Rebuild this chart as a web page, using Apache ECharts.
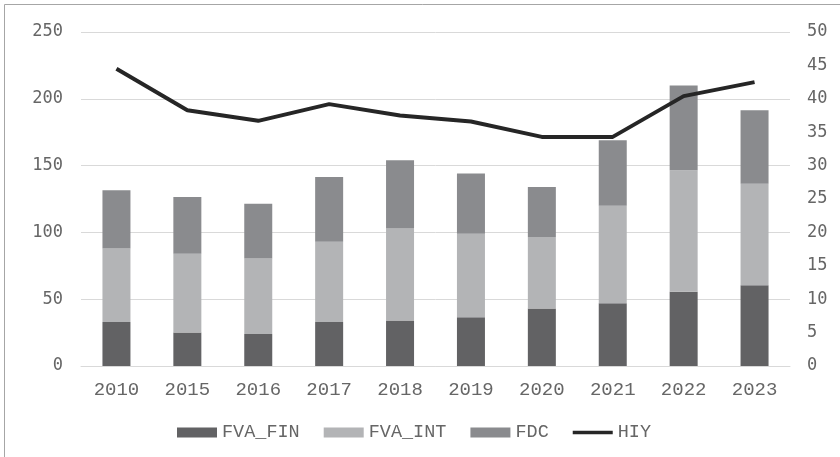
<!DOCTYPE html>
<html>
<head>
<meta charset="utf-8">
<script src="https://cdn.jsdelivr.net/npm/echarts@6/dist/echarts.min.js"></script>
<style>
  html, body { margin: 0; padding: 0; background: #fff; }
  #chart { width: 840px; height: 457px; }
</style>
</head>
<body>
<div id="chart"></div>
<script>
// Years on the category axis
const years = ['2010', '2015', '2016', '2017', '2018', '2019', '2020', '2021', '2022', '2023'];

// Stacked bar components (left axis)
const fvaFin = [33, 25, 24, 33, 34, 36.5, 43, 47, 55.5, 60.5];
const fvaInt = [55, 59, 56.5, 60, 69, 62.5, 53.5, 73, 91, 76];
const fdc    = [43.5, 42.5, 41, 48.5, 51, 45, 37.5, 49, 63.5, 55];

// Line series (right axis)
const hiy = [44.5, 38.3, 36.7, 39.2, 37.5, 36.6, 34.3, 34.3, 40.4, 42.5];

// Axis ranges
const leftAxis = { min: 0, max: 250, interval: 50 };
const rightAxis = { min: 0, max: 50, interval: 5 };

const chart = echarts.init(document.getElementById('chart'), null, { renderer: 'canvas' });

const labelColor = '#666666';
const sansMono = '"DejaVu Sans Mono", monospace';
const serifMono = '"Liberation Mono", "Courier New", monospace';

// Thin horizontal bar inside a 40x10 box, used as the line legend marker
const lineIcon = 'path://M0,3.3 L40,3.3 L40,6.7 L0,6.7 Z M0,0 L0,0 L0,10 Z';

chart.setOption({
  backgroundColor: '#ffffff',
  animation: false,
  graphic: [{
    type: 'rect',
    shape: { x: 4.5, y: 4.5, width: 1000, height: 1000 },
    style: { fill: 'none', stroke: '#a6a6a6', lineWidth: 1 },
    silent: true
  }],
  grid: { left: 81, right: 50, top: 32, bottom: 91 },
  legend: {
    bottom: 10,
    left: 172,
    itemWidth: 40,
    itemHeight: 10,
    itemGap: 24,
    textStyle: { fontFamily: serifMono, fontSize: 18.5, color: labelColor, padding: [0, 0, 0, 0] },
    data: [
      { name: 'FVA_FIN', icon: 'rect' },
      { name: 'FVA_INT', icon: 'rect' },
      { name: 'FDC', icon: 'rect' },
      { name: 'HIY', icon: lineIcon, itemStyle: { color: '#262626' } }
    ]
  },
  xAxis: {
    type: 'category',
    data: years,
    axisLine: { show: true, lineStyle: { color: '#d9d9d9', width: 1 } },
    axisTick: { show: false },
    axisLabel: { fontFamily: serifMono, fontSize: 19, color: labelColor, margin: 14 }
  },
  yAxis: [
    {
      type: 'value',
      min: leftAxis.min, max: leftAxis.max, interval: leftAxis.interval,
      axisLine: { show: false },
      axisTick: { show: false },
      splitLine: { lineStyle: { color: '#d9d9d9', width: 1 } },
      axisLabel: { fontFamily: sansMono, fontSize: 17, color: labelColor, margin: 18 }
    },
    {
      type: 'value',
      min: rightAxis.min, max: rightAxis.max, interval: rightAxis.interval,
      axisLine: { show: false },
      axisTick: { show: false },
      splitLine: { show: false },
      axisLabel: { fontFamily: sansMono, fontSize: 17, color: labelColor, margin: 17 }
    }
  ],
  series: [
    {
      name: 'FVA_FIN', type: 'bar', stack: 'total', data: fvaFin,
      barWidth: 28, itemStyle: { color: '#626264' }
    },
    {
      name: 'FVA_INT', type: 'bar', stack: 'total', data: fvaInt,
      barWidth: 28, itemStyle: { color: '#b3b4b6' }
    },
    {
      name: 'FDC', type: 'bar', stack: 'total', data: fdc,
      barWidth: 28, itemStyle: { color: '#8a8b8e' }
    },
    {
      name: 'HIY', type: 'line', yAxisIndex: 1, data: hiy,
      symbol: 'none', lineStyle: { color: '#262626', width: 4 },
      itemStyle: { color: '#262626' }
    }
  ]
});
</script>
</body>
</html>
